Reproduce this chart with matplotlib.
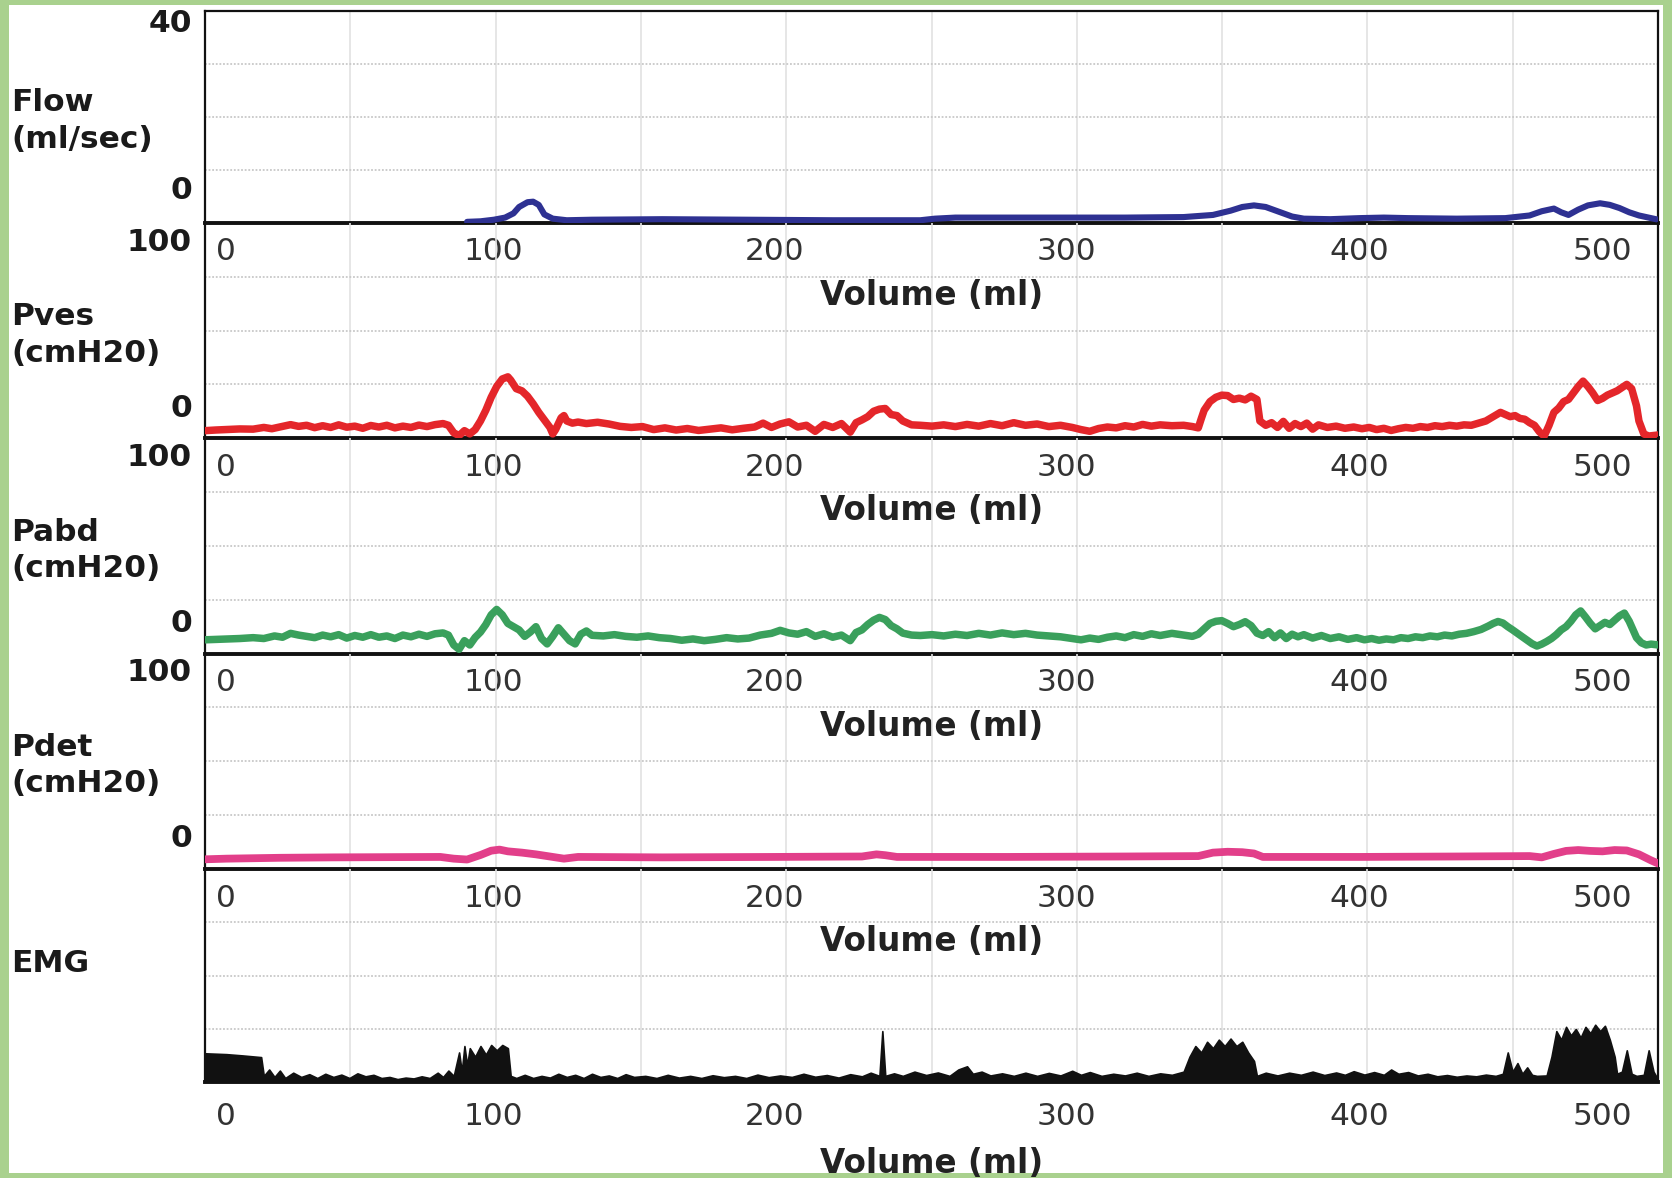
import numpy as np
import matplotlib
matplotlib.use("Agg")
import matplotlib.pyplot as plt
from matplotlib.patches import Rectangle
from matplotlib.transforms import blended_transform_factory

# ---------------- data ----------------
volume_ticks = [0, 100, 200, 300, 400, 500]
# where each volume label falls across the 10 equal time divisions of the trace
tick_division = [0.147, 1.988, 3.918, 5.928, 7.946, 9.618]

channel_names = ["Flow\n(ml/sec)", "Pves\n(cmH20)", "Pabd\n(cmH20)", "Pdet\n(cmH20)", "EMG"]
range_top = ["40", "100", "100", "100", ""]
range_bottom = ["0", "0", "0", "0", ""]
y_limits = [40, 100, 100, 100, 100]

flow_vol = [90, 95, 100, 104, 107, 109, 112, 114, 116, 118, 121, 126, 135, 160, 190, 220, 250,
            255, 262, 290, 320, 340, 350, 356, 360, 364, 368, 372, 377, 381, 390, 400, 410, 420,
            440, 460, 470, 475, 480, 483, 486, 490, 494, 499, 503, 507, 511, 515, 519, 523]
flow_val = [0.2, 0.3, 0.6, 1.0, 1.8, 3.0, 3.9, 4.0, 3.4, 1.6, 0.8, 0.5, 0.6, 0.7, 0.6, 0.5, 0.5,
            0.8, 1.0, 1.0, 1.0, 1.1, 1.5, 2.3, 3.0, 3.3, 3.0, 2.2, 1.2, 0.8, 0.7, 0.9, 1.0, 0.9,
            0.8, 0.9, 1.4, 2.2, 2.7, 2.0, 1.5, 2.5, 3.3, 3.7, 3.4, 2.8, 2.0, 1.4, 1.0, 0.6]

pves_vol = [-8, -4, 0, 5, 10, 14, 17, 20, 24, 27, 30, 33, 36, 39, 42, 45, 48, 51, 54, 57, 60, 63,
            66, 69, 72, 75, 78, 81, 83, 85, 87, 89, 91, 93, 95, 97, 99, 101, 103, 105, 106, 108,
            110, 112, 114, 116, 118, 120, 121, 122, 124, 125, 126, 128, 130, 133, 137, 141, 145,
            149, 153, 157, 161, 165, 169, 173, 177, 181, 185, 189, 193, 196, 199, 202, 205, 208,
            211, 214, 217, 220, 223, 226, 228, 230, 232, 234, 236, 238, 240, 242, 244, 247, 250,
            254, 258, 262, 266, 270, 274, 278, 282, 286, 290, 294, 298, 302, 305, 308, 311, 314,
            317, 320, 323, 326, 329, 332, 336, 340, 343, 345, 346, 347, 349, 351, 353, 355, 357,
            359, 361, 363, 365, 366, 368, 370, 372, 374, 376, 378, 380, 382, 384, 386, 389, 392,
            395, 398, 401, 404, 407, 410, 413, 416, 419, 422, 425, 428, 431, 434, 437, 440, 443,
            446, 449, 452, 455, 458, 460, 462, 464, 466, 468, 470, 472, 474, 476, 478, 480, 482,
            484, 486, 488, 490, 492, 494, 496, 498, 500, 502, 504, 506, 508, 510, 512, 514, 515,
            517, 519, 523]
pves_val = [3.5, 3.8, 4.0, 4.3, 4.2, 5.0, 4.4, 5.2, 6.3, 5.5, 6.0, 4.9, 5.8, 5.0, 6.2, 5.1, 5.6,
            4.6, 5.9, 5.2, 6.0, 4.8, 5.6, 5.0, 6.1, 5.4, 6.3, 6.8, 6.0, 2.5, 1.2, 3.5, 2.0, 4.0,
            8.0, 13.0, 19.0, 24.0, 27.5, 28.5, 27.0, 23.0, 22.0, 19.5, 16.0, 12.0, 8.5, 5.0, 2.0,
            4.0, 9.5, 10.5, 8.0, 7.0, 7.5, 6.8, 7.4, 6.6, 5.5, 5.0, 5.4, 4.0, 4.8, 3.8, 4.5, 3.6,
            4.2, 4.8, 3.9, 4.6, 5.2, 7.0, 5.0, 6.6, 7.6, 5.2, 6.0, 3.2, 6.4, 5.0, 6.8, 2.8, 7.2,
            8.5, 10.0, 12.5, 13.5, 13.8, 11.0, 10.5, 8.0, 6.2, 6.0, 5.6, 6.2, 5.4, 6.4, 5.6, 6.8,
            5.8, 7.2, 6.0, 6.6, 5.4, 6.0, 5.0, 4.0, 3.2, 4.5, 5.2, 4.8, 5.8, 5.2, 6.4, 5.6, 6.2,
            5.8, 6.0, 5.4, 4.8, 9.0, 13.0, 17.0, 19.0, 20.0, 19.8, 18.0, 18.6, 17.8, 19.5, 18.0,
            8.0, 6.0, 7.2, 5.0, 7.8, 4.6, 6.8, 5.4, 7.0, 4.2, 6.2, 5.0, 5.6, 4.6, 5.2, 4.4, 5.0,
            4.0, 4.6, 3.6, 4.4, 5.0, 4.6, 5.4, 5.0, 5.8, 5.4, 6.0, 5.6, 6.2, 6.0, 7.0, 8.0, 10.0,
            12.0, 11.0, 10.0, 10.5, 9.2, 8.8, 7.2, 6.0, 3.0, 1.0, 6.0, 12.0, 14.0, 17.0, 18.0,
            21.0, 24.0, 26.5, 24.0, 21.0, 17.5, 18.5, 20.0, 21.0, 22.0, 23.5, 25.0, 23.0, 15.0,
            8.0, 2.0, 1.0, 1.5]

pabd_vol = [-8, -4, 0, 5, 10, 14, 18, 21, 24, 27, 30, 33, 36, 39, 42, 45, 48, 51, 54, 57, 60, 63,
            66, 69, 72, 75, 78, 81, 83, 85, 87, 89, 91, 93, 95, 97, 99, 101, 103, 105, 107, 109,
            111, 113, 115, 117, 119, 121, 123, 125, 127, 129, 131, 133, 135, 139, 143, 147, 151,
            155, 159, 163, 167, 171, 175, 179, 183, 187, 191, 195, 199, 202, 205, 208, 211, 214,
            217, 220, 223, 226, 228, 230, 232, 234, 236, 238, 240, 242, 244, 247, 250, 254, 258,
            262, 266, 270, 274, 278, 282, 286, 290, 294, 298, 302, 305, 308, 311, 314, 317, 320,
            323, 326, 329, 332, 336, 340, 343, 345, 347, 349, 351, 353, 355, 357, 359, 361, 363,
            365, 367, 369, 371, 373, 375, 377, 379, 381, 384, 387, 390, 393, 396, 399, 402, 405,
            408, 411, 414, 417, 420, 423, 426, 429, 432, 435, 438, 441, 444, 447, 450, 453, 455,
            457, 459, 461, 463, 465, 467, 469, 471, 473, 475, 477, 479, 481, 483, 485, 487, 489,
            491, 493, 495, 497, 499, 501, 503, 505, 507, 509, 511, 513, 514, 516, 518, 520, 523]
pabd_val = [6.4, 6.6, 6.8, 7.0, 7.4, 7.0, 8.2, 7.6, 9.4, 8.6, 8.0, 7.4, 8.6, 7.8, 8.8, 7.2, 8.4,
            7.6, 8.8, 7.6, 8.2, 7.0, 8.6, 7.8, 9.0, 8.0, 9.2, 9.6, 8.6, 4.0, 2.0, 6.0, 4.0, 7.5,
            10.0, 13.5, 18.0, 20.5, 18.0, 14.0, 12.5, 11.0, 8.0, 10.0, 12.5, 7.0, 4.5, 8.0, 12.0,
            9.0, 6.0, 4.5, 9.0, 10.5, 8.5, 8.2, 8.8, 8.0, 7.6, 8.2, 7.4, 7.0, 6.2, 6.8, 6.0, 6.6,
            7.4, 6.8, 7.2, 8.6, 9.4, 10.8, 9.6, 9.0, 10.2, 8.0, 9.2, 7.6, 8.6, 6.0, 9.8, 11.0,
            13.5, 15.5, 16.8, 15.8, 13.0, 11.5, 9.5, 8.6, 8.4, 8.8, 8.2, 9.0, 8.4, 9.4, 8.6, 9.6,
            8.8, 9.4, 8.6, 8.2, 7.8, 7.0, 6.4, 7.2, 6.6, 7.6, 8.2, 7.4, 8.8, 8.0, 9.2, 8.4, 9.4,
            8.6, 8.0, 9.0, 11.5, 14.0, 15.0, 15.3, 14.0, 12.5, 13.5, 14.8, 13.0, 9.5, 8.4, 10.2,
            7.4, 9.6, 7.0, 9.0, 7.8, 8.8, 7.2, 8.4, 7.0, 7.8, 6.6, 7.4, 6.4, 7.0, 6.2, 6.8, 6.4,
            7.4, 7.0, 7.8, 7.4, 8.2, 7.8, 8.6, 8.2, 9.0, 9.4, 10.2, 11.2, 12.8, 14.0, 14.9, 14.2,
            12.5, 11.0, 9.4, 7.8, 6.2, 4.6, 3.5, 4.4, 5.6, 7.0, 8.8, 11.0, 12.5, 15.0, 18.0, 19.8,
            17.0, 14.0, 11.5, 13.0, 14.5, 13.5, 15.5, 17.5, 18.8, 15.0, 10.0, 7.4, 5.0, 4.0, 4.4,
            4.0]

pdet_vol = [-8, 0, 20, 40, 60, 80, 85, 90, 95, 99, 102, 105, 110, 115, 120, 125, 130, 160, 200,
            230, 235, 238, 242, 280, 320, 345, 350, 355, 360, 364, 367, 400, 440, 470, 475, 480,
            485, 490, 495, 500, 505, 510, 515, 520, 523]
pdet_val = [4.5, 4.8, 5.2, 5.4, 5.5, 5.6, 4.8, 4.4, 6.5, 8.5, 9.0, 8.2, 7.6, 6.8, 5.8, 4.8, 5.6,
            5.4, 5.6, 5.8, 6.8, 6.4, 5.6, 5.6, 5.8, 6.0, 7.6, 8.0, 7.8, 7.2, 5.6, 5.6, 5.8, 6.0,
            5.4, 7.0, 8.4, 8.8, 8.4, 8.2, 8.8, 8.6, 6.8, 4.0, 2.5]

emg_vol = [-8, 0, 6, 13, 14, 16, 18, 20, 22, 25, 28, 31, 34, 37, 40, 43, 46, 49, 52, 55, 58, 61,
           64, 67, 70, 73, 76, 79, 81, 83, 85, 87, 88, 89, 90, 91, 93, 95, 97, 99, 101, 103, 105,
           106, 108, 111, 114, 117, 120, 123, 126, 129, 132, 135, 138, 141, 144, 147, 150, 154,
           158, 162, 166, 170, 174, 178, 182, 186, 190, 194, 198, 202, 206, 210, 214, 218, 222,
           226, 230, 233, 236, 237, 238, 241, 244, 248, 252, 256, 260, 263, 266, 268, 271, 274,
           278, 282, 286, 290, 294, 298, 302, 305, 308, 312, 316, 320, 324, 328, 332, 336, 340,
           342, 344, 346, 348, 350, 352, 354, 356, 358, 360, 362, 364, 365, 368, 372, 376, 380,
           384, 388, 392, 395, 398, 402, 406, 410, 413, 416, 420, 424, 428, 432, 436, 440, 444,
           448, 452, 456, 459, 461, 463, 465, 467, 469, 471, 473, 477, 479, 481, 483, 485, 487,
           489, 491, 493, 495, 497, 499, 501, 503, 505, 506, 508, 510, 512, 514, 517, 519, 521,
           523]
emg_val = [13.6, 13.2, 12.6, 11.8, 3.0, 6.0, 2.5, 5.5, 2.0, 4.5, 2.5, 3.8, 2.0, 4.0, 2.5, 3.6,
           2.0, 4.2, 2.8, 3.5, 2.0, 2.5, 1.5, 2.2, 1.8, 2.8, 2.0, 4.5, 2.5, 5.5, 3.0, 14.0, 5.0,
           17.0, 8.0, 16.0, 12.0, 17.0, 13.0, 17.5, 15.0, 17.5, 16.0, 3.0, 2.0, 3.5, 2.0, 3.0,
           2.2, 4.0, 2.5, 3.5, 2.0, 4.0, 2.5, 3.2, 2.0, 3.8, 2.5, 3.0, 2.0, 3.5, 2.2, 3.0, 2.0,
           3.3, 2.4, 3.0, 2.0, 3.6, 2.4, 3.2, 2.5, 4.0, 2.6, 3.4, 2.2, 3.8, 2.8, 4.5, 3.0, 24.0,
           3.0, 4.2, 3.0, 5.0, 3.4, 4.6, 3.0, 6.0, 7.5, 4.0, 5.0, 3.2, 4.2, 3.0, 4.5, 3.0, 4.4,
           3.2, 5.4, 3.5, 4.8, 3.0, 4.0, 3.2, 4.5, 3.0, 4.2, 3.5, 5.0, 12.0, 17.0, 14.0, 19.0,
           16.0, 20.0, 17.0, 20.5, 17.0, 19.0, 14.0, 10.0, 3.0, 4.5, 3.2, 4.5, 3.5, 5.0, 3.4,
           4.6, 3.5, 5.2, 3.6, 4.8, 3.5, 6.0, 4.0, 4.8, 3.2, 4.0, 2.8, 3.4, 2.6, 3.2, 2.8, 3.6,
           3.0, 4.0, 14.0, 5.0, 9.0, 4.0, 7.0, 3.5, 3.0, 3.2, 12.0, 24.0, 20.0, 26.0, 22.0,
           25.0, 21.0, 26.0, 23.0, 27.0, 24.0, 26.5, 20.0, 12.0, 4.0, 5.0, 15.0, 4.0, 3.0, 3.5,
           15.0, 5.0, 1.0]

# ---------------- style ----------------
FONT = "DejaVu Sans"
plt.rcParams["font.family"] = FONT
W, H = 1672, 1178
border_green = "#a9d18e"
colors = ["#2e3192", "#e4262a", "#3aa05c", "#e23f8a", "#111111"]
line_widths = [4.4, 5.4, 5.4, 5.6, 0]

ext_v = [-100] + volume_ticks + [600]
ext_d = ([tick_division[0] - (tick_division[1] - tick_division[0])] + tick_division +
         [tick_division[-1] + (tick_division[-1] - tick_division[-2])])


def fwd(v):
    return np.interp(np.asarray(v, dtype=float), ext_v, ext_d)


def inv(d):
    return np.interp(np.asarray(d, dtype=float), ext_d, ext_v)


fig = plt.figure(figsize=(W / 100, H / 100), dpi=100, facecolor=border_green)
fig.add_artist(Rectangle((9 / W, 5 / H), 1 - 18 / W, 1 - 10 / H, transform=fig.transFigure,
                         facecolor="white", edgecolor="none", zorder=-5))

panel_px = [(10.7, 222.9), (222.9, 438.2), (438.2, 653.6), (653.6, 869.0), (869.0, 1082.3)]
left_px, right_px = 205, 1658

series = [(flow_vol, flow_val), (pves_vol, pves_val), (pabd_vol, pabd_val),
          (pdet_vol, pdet_val), (emg_vol, emg_val)]

for i, (top, bot) in enumerate(panel_px):
    ax = fig.add_axes([left_px / W, 1 - bot / H, (right_px - left_px) / W, (bot - top) / H])
    ax.set_facecolor("none")
    ax.set_xscale("function", functions=(fwd, inv))
    ax.set_xlim(float(inv(0)), float(inv(10)))
    ax.set_ylim(0, y_limits[i])

    xs, ys = series[i]
    if i < 4:
        ax.plot(xs, ys, color=colors[i], lw=line_widths[i], solid_joinstyle="round",
                solid_capstyle="round", zorder=3)
    else:
        ax.fill_between(xs, 0, ys, color=colors[i], lw=1.2, edgecolor=colors[i], zorder=3)

    # grid
    ax.set_yticks([y_limits[i] * f for f in (0.25, 0.5, 0.75)])
    ax.set_yticklabels([])
    ax.set_xticks(volume_ticks)
    ax.set_xticklabels([str(v) for v in volume_ticks])
    ax.set_xticks(inv(np.arange(1, 10)), minor=True)
    ax.grid(axis="y", which="major", color="#c8c8c8", linestyle=(0, (1, 1)), lw=1.3)
    ax.grid(axis="x", which="minor", color="#e2e2e2", linestyle="-", lw=1.2)
    ax.grid(axis="x", which="major", visible=False)
    ax.tick_params(axis="both", which="both", length=0)
    pad = 14.5 if i == 4 else 10.5
    ax.tick_params(axis="x", labelsize=22.5, colors="#333333", pad=pad)
    ax.set_xlabel("Volume (ml)", fontsize=23.5, fontweight="bold", color="#222222",
                  labelpad=9 if i < 4 else 11)

    for side in ("left", "right", "top"):
        ax.spines[side].set_linewidth(1.6)
        ax.spines[side].set_color("#111111")
    ax.spines["bottom"].set_linewidth(2.8)
    ax.spines["bottom"].set_color("#111111")
    ax.spines["top"].set_visible(i == 0)

    # channel name on the left
    tr = blended_transform_factory(fig.transFigure, ax.transAxes)
    name_y = 0.48 if "\n" in channel_names[i] else 0.559
    ax.text(11 / W, name_y, channel_names[i], transform=tr, ha="left", va="center",
            fontsize=22.5, fontweight="bold", color="#1a1a1a", linespacing=1.32)
    if range_top[i]:
        top_y = 0.94 if i == 0 else 0.911
        bot_y = 0.155 if i == 0 else 0.14
        ax.text(192 / W, top_y, range_top[i], transform=tr, ha="right", va="center",
                fontsize=22.5, fontweight="bold", color="#1a1a1a")
        ax.text(192 / W, bot_y, range_bottom[i], transform=tr, ha="right", va="center",
                fontsize=22.5, fontweight="bold", color="#1a1a1a")

fig.savefig("out.png", dpi=100, facecolor=fig.get_facecolor())
